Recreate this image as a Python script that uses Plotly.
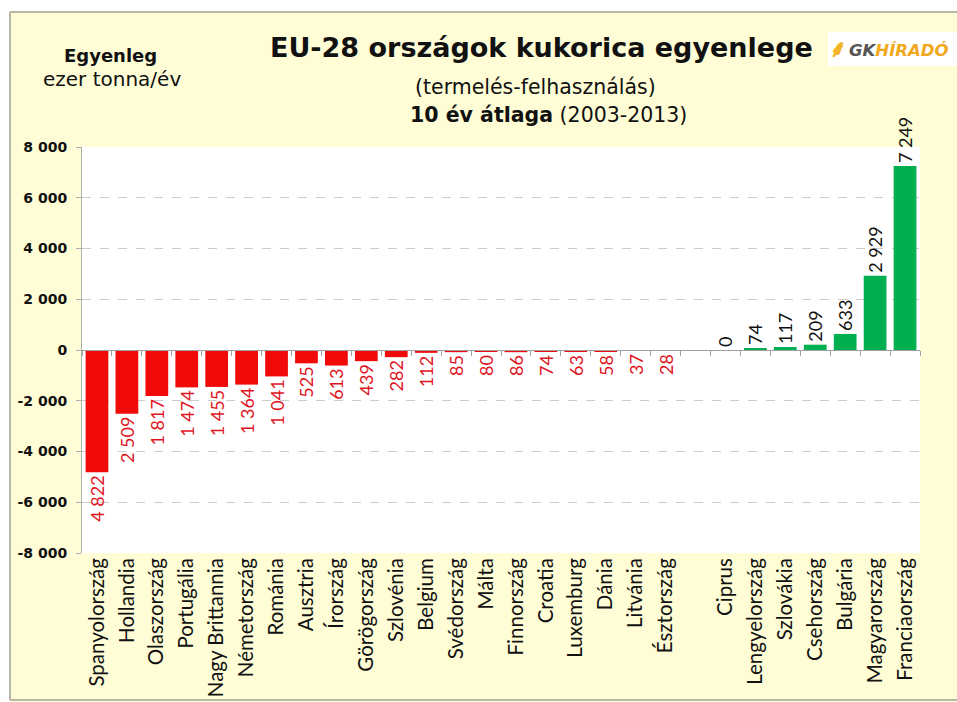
import plotly.graph_objects as go

countries = ["Spanyolország", "Hollandia", "Olaszország", "Portugália", "Nagy Brittannia",
             "Németország", "Románia", "Ausztria", "Írország", "Görögország", "Szlovénia",
             "Belgium", "Svédország", "Málta", "Finnország", "Croatia", "Luxemburg", "Dánia",
             "Litvánia", "Észtország", " ", "Ciprus", "Lengyelország", "Szlovákia",
             "Csehország", "Bulgária", "Magyarország", "Franciaország"]
values = [-4822, -2509, -1817, -1474, -1455, -1364, -1041, -525, -613, -439, -282,
          -112, -85, -80, -86, -74, -63, -58, -37, -28, None, 0, 74, 117, 209, 633, 2929, 7249]
tick_vals = [-8000, -6000, -4000, -2000, 0, 2000, 4000, 6000, 8000]
tick_text = ["-8 000", "-6 000", "-4 000", "-2 000", "0", "2 000", "4 000", "6 000", "8 000"]

W, H = 957, 702
ML, MR, MT, MB = 82, 37, 147, 149
PW, PH = W - ML - MR, H - MT - MB


def px(x):
    return (x - ML) / PW


def py(y):
    return (H - MB - y) / PH


RED = "#F00A0A"
GREEN = "#00B050"
colors = [RED if (v is not None and v < 0) else GREEN for v in values]
labels = ["" if v is None else f"{abs(v):,}".replace(",", " ") for v in values]
tcolors = ["#E0141E" if (v is not None and v < 0) else "#111111" for v in values]
n = len(countries)

fig = go.Figure()
fig.add_trace(go.Bar(
    x=countries, y=values, marker=dict(color=colors, line=dict(width=0)),
    text=labels, textposition="outside", textangle=-90, constraintext="none",
    cliponaxis=False,
    textfont=dict(family="Lato", size=18, color=tcolors),
    hoverinfo="skip", showlegend=False,
))
# helper trace for the category separator ticks on the zero line
fig.add_trace(go.Scatter(
    x=countries, y=[0] * n, xaxis="x2", mode="markers",
    marker=dict(opacity=0, size=1), hoverinfo="skip", showlegend=False,
))

fig.update_layout(
    width=W, height=H,
    margin=dict(l=ML, r=MR, t=MT, b=MB, autoexpand=False),
    paper_bgcolor="#FFFDD6",
    plot_bgcolor="#FFFFFF",
    bargap=0.24,
    xaxis=dict(
        type="category", range=[-0.5, n - 0.5], tickangle=-90, showgrid=False,
        zeroline=False, showline=False, ticks="", automargin=False,
        tickfont=dict(family="Lato", size=20.5, color="#111111"),
    ),
    xaxis2=dict(
        type="category", overlaying="x", anchor="free", position=0.5,
        range=[-0.5, n - 0.5], showticklabels=False, ticks="outside", ticklen=5,
        tickson="boundaries", tickcolor="#A0A0A0", showline=True,
        linecolor="#A0A0A0", linewidth=1, showgrid=False, zeroline=False,
        automargin=False,
    ),
    yaxis=dict(
        range=[-8000, 8000], tickvals=tick_vals, ticktext=tick_text,
        showgrid=True, gridcolor="#CCCCCC", griddash="dash", gridwidth=1,
        zeroline=True, zerolinecolor="#A0A0A0", zerolinewidth=1,
        showline=True, linecolor="#B0B0B0", linewidth=1, automargin=False,
        ticks="outside", ticklen=5, tickcolor="#B0B0B0", ticklabelstandoff=6,
        tickfont=dict(family="DejaVu Sans", size=14, color="#111111", weight="bold"),
    ),
    shapes=[
        dict(type="rect", xref="paper", yref="paper", x0=px(-5), x1=px(W + 5),
             y0=py(0), y1=py(12), fillcolor="#FFFFFF", line=dict(width=0)),
        dict(type="rect", xref="paper", yref="paper", x0=px(-5), x1=px(10),
             y0=py(H + 5), y1=py(0), fillcolor="#FFFFFF", line=dict(width=0)),
        dict(type="line", xref="paper", yref="paper", x0=px(10), x1=px(W + 5),
             y0=py(12), y1=py(12), line=dict(color="#B8B8A8", width=2)),
        dict(type="line", xref="paper", yref="paper", x0=px(10), x1=px(10),
             y0=py(12), y1=py(700), line=dict(color="#B8B8A8", width=2)),
        dict(type="line", xref="paper", yref="paper", x0=px(10), x1=px(W + 5),
             y0=py(700), y1=py(700), line=dict(color="#B8B8A8", width=2)),
        dict(type="rect", xref="paper", yref="paper", x0=px(828), x1=px(W + 5),
             y0=py(66), y1=py(32), fillcolor="#FFFFFF", line=dict(width=0)),
    ],
    annotations=[
        dict(text="<b>EU-28 országok kukorica egyenlege</b>", xref="paper", yref="paper",
             x=px(541), y=py(47), xanchor="center", yanchor="middle", showarrow=False,
             font=dict(family="DejaVu Sans", size=27, color="#111111")),
        dict(text="(termelés-felhasználás)", xref="paper", yref="paper",
             x=px(535), y=py(87), xanchor="center", yanchor="middle", showarrow=False,
             font=dict(family="DejaVu Sans", size=20.5, color="#111111")),
        dict(text="<b>10 év átlaga</b> (2003-2013)", xref="paper", yref="paper",
             x=px(548), y=py(115), xanchor="center", yanchor="middle", showarrow=False,
             font=dict(family="DejaVu Sans", size=20.5, color="#111111")),
        dict(text="<b>Egyenleg</b>", xref="paper", yref="paper",
             x=px(110), y=py(55), xanchor="center", yanchor="middle", showarrow=False,
             font=dict(family="DejaVu Sans", size=18, color="#111111")),
        dict(text="ezer tonna/év", xref="paper", yref="paper",
             x=px(112), y=py(79), xanchor="center", yanchor="middle", showarrow=False,
             font=dict(family="DejaVu Sans", size=20, color="#111111")),
        dict(text="<b><i><span style='color:#555555'>GK</span><span style='color:#F2A81D'>HÍRADÓ</span></i></b>",
             xref="paper", yref="paper", x=px(847), y=py(50), xanchor="left",
             yanchor="middle", showarrow=False,
             font=dict(family="DejaVu Sans", size=16.5)),
        dict(text="<b>⸙</b>", xref="paper", yref="paper", x=px(838), y=py(49),
             xanchor="center", yanchor="middle", showarrow=False,
             font=dict(family="DejaVu Sans", size=24, color="#F2B52A")),
    ],
)

fig.write_html("out.html")
